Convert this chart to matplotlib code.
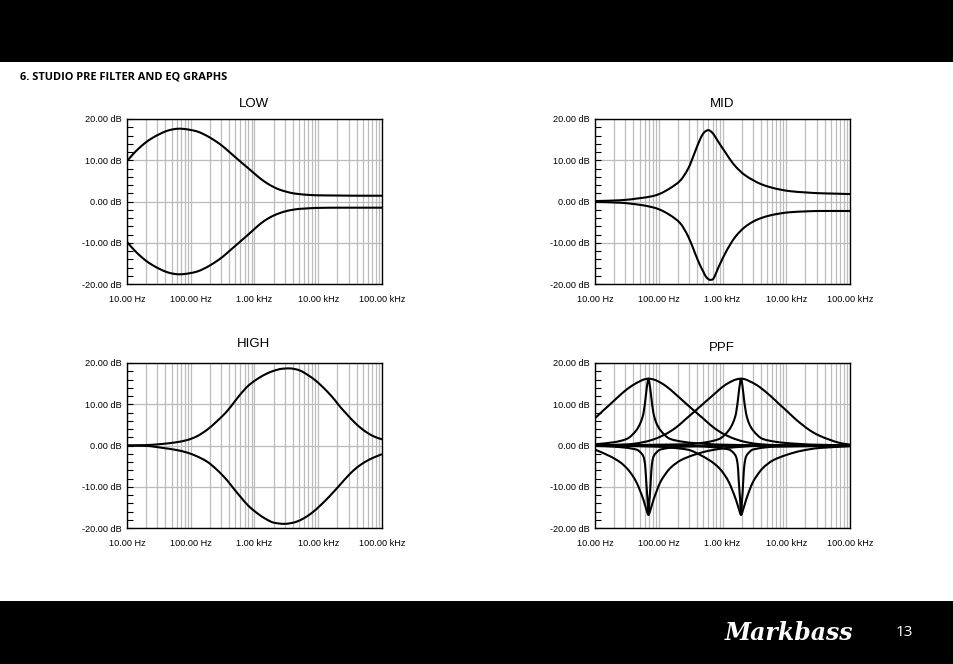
import matplotlib
matplotlib.use("Agg")
import numpy as np
import matplotlib.pyplot as plt
from matplotlib.patches import Rectangle, PathPatch
from matplotlib.path import Path
from matplotlib.ticker import FixedLocator, LogLocator, MultipleLocator, NullFormatter

# ---- data (frequency in Hz, level in dB) ----
x_ticks = [10, 100, 1000, 10000, 100000]
x_labels = ["10.00 Hz", "100.00 Hz", "1.00 kHz", "10.00 kHz", "100.00 kHz"]
y_ticks = [-20, -10, 0, 10, 20]
y_labels = ["-20.00 dB", "-10.00 dB", "0.00 dB", "10.00 dB", "20.00 dB"]

low_f = [10, 12, 14, 17, 20, 25, 33, 42, 53, 65, 77, 95, 125, 160, 200, 250, 320, 400,
         500, 630, 800, 1000, 1250, 1600, 2000, 2500, 3200, 4000, 5000, 6300, 8000,
         10000, 20000, 50000, 100000]
low_boost = [9.8, 11.2, 12.3, 13.5, 14.4, 15.4, 16.4, 17.1, 17.5, 17.65, 17.6, 17.4, 17.0,
             16.3, 15.5, 14.55, 13.35, 12.05, 10.75, 9.4, 8.05, 6.75, 5.5, 4.35, 3.5,
             2.85, 2.35, 2.0, 1.8, 1.65, 1.55, 1.5, 1.45, 1.4, 1.4]
low_cut = [-9.8, -11.2, -12.3, -13.5, -14.4, -15.4, -16.4, -17.1, -17.5, -17.65, -17.6,
           -17.4, -17.0, -16.3, -15.5, -14.55, -13.35, -12.05, -10.75, -9.4, -8.0, -6.65,
           -5.35, -4.2, -3.4, -2.8, -2.3, -2.0, -1.8, -1.7, -1.6, -1.55, -1.5, -1.5, -1.5]

mid_f_boost = [10, 25, 50, 80, 105, 150, 215, 290, 370, 440, 500, 550, 600, 680, 760, 900,
               1100, 1300, 1600, 2200, 3000, 3900, 5500, 8000, 11500, 20000, 34000, 60000,
               100000]
mid_boost = [0.1, 0.3, 0.8, 1.3, 1.9, 3.2, 5.0, 8.0, 12.0, 14.9, 16.5, 17.1, 17.3, 16.8,
             15.8, 14.0, 12.0, 10.3, 8.5, 6.5, 5.2, 4.3, 3.5, 2.9, 2.5, 2.2, 2.0, 1.9, 1.8]
mid_f_cut = [10, 25, 50, 80, 105, 150, 215, 290, 370, 440, 500, 560, 640, 700, 760, 850,
             950, 1100, 1300, 1600, 2200, 3000, 3900, 5500, 8000, 11500, 20000, 34000,
             100000]
mid_cut = [-0.1, -0.3, -0.8, -1.4, -2.0, -3.3, -5.2, -8.5, -12.5, -15.3, -17.0, -18.4,
           -19.0, -18.9, -18.0, -16.2, -14.6, -12.6, -10.6, -8.5, -6.3, -4.9, -4.1, -3.4,
           -2.9, -2.6, -2.4, -2.3, -2.3]

high_f_boost = [10, 20, 37, 60, 87, 120, 180, 250, 370, 480, 600, 800, 1100, 1500, 2000,
                2700, 3500, 4400, 5300, 7000, 9000, 11000, 14000, 18000, 22000, 28000,
                36000, 46000, 60000, 80000, 100000]
high_boost = [0.0, 0.1, 0.4, 0.8, 1.3, 2.1, 3.8, 5.7, 8.3, 10.5, 12.4, 14.5, 16.1, 17.3,
              18.1, 18.6, 18.7, 18.5, 18.1, 17.0, 15.8, 14.6, 13.0, 11.1, 9.4, 7.6, 5.8,
              4.3, 3.0, 2.0, 1.5]
high_f_cut = [10, 20, 37, 60, 87, 120, 180, 250, 370, 480, 600, 800, 1100, 1500, 2000,
              2900, 3800, 4700, 6000, 8000, 11000, 14000, 18000, 22000, 28000, 36000,
              46000, 60000, 80000, 100000]
high_cut = [0.0, -0.1, -0.6, -1.1, -1.7, -2.5, -3.9, -5.7, -8.4, -10.6, -12.4, -14.6,
            -16.4, -17.8, -18.7, -19.0, -18.8, -18.4, -17.6, -16.3, -14.4, -12.8, -11.0,
            -9.5, -7.7, -6.0, -4.7, -3.6, -2.7, -2.1]

# PPF: wide boost, narrow boost, wide cut, needle cut at ~69 Hz and ~1.95 kHz
ppf_wide_lo_f = [10, 13.5, 17.3, 23.5, 31.5, 40, 51, 61.5, 69, 83, 105, 135, 170, 245,
                 355, 510, 645, 870, 1170, 1700, 2450, 3950, 6900, 13800, 100000]
ppf_wide_lo = [6.6, 8.5, 10.0, 11.9, 13.6, 14.7, 15.6, 16.1, 16.2, 16.0, 15.3, 14.2,
               12.9, 10.7, 8.5, 6.4, 5.0, 3.5, 2.4, 1.4, 0.75, 0.3, 0.1, 0.02, 0.0]
ppf_wide_hi_f = [10, 34, 55, 80, 115, 155, 210, 265, 380, 550, 800, 1000, 1290, 1630,
                 1955, 2200, 2640, 3400, 4270, 5770, 7800, 10000, 13500, 17000, 25000,
                 33000, 48000, 70000, 100000]
ppf_wide_hi = [0.05, 0.3, 0.75, 1.4, 2.4, 3.5, 5.0, 6.4, 8.5, 10.7, 12.9, 14.2, 15.3,
               16.0, 16.2, 16.1, 15.6, 14.7, 13.6, 11.9, 10.0, 8.5, 6.6, 5.3, 3.4, 2.4,
               1.4, 0.6, 0.2]
ppf_narrow_lo_f = [10, 20, 31.5, 45, 52, 57.6, 63.4, 66, 69, 72, 75, 82.6, 92, 105, 151,
                   240, 352, 1000, 5000, 100000]
ppf_narrow_lo = [0.3, 0.8, 1.6, 3.8, 5.6, 7.8, 12.7, 14.8, 16.2, 14.8, 12.7, 7.8, 5.4,
                 3.8, 1.6, 0.9, 0.6, 0.2, 0.05, 0.0]
ppf_narrow_hi_f = [10, 283, 560, 890, 1270, 1470, 1630, 1795, 1870, 1955, 2040, 2120,
                   2340, 2600, 2970, 4270, 6800, 10000, 28000, 100000]
ppf_narrow_hi = [0.05, 0.3, 0.8, 1.6, 3.8, 5.6, 7.8, 12.7, 14.8, 16.2, 14.8, 12.7, 7.8,
                 5.4, 3.8, 1.6, 0.9, 0.6, 0.2, 0.05]
ppf_cut_lo_f = [10, 17.2, 25, 31.5, 38, 45, 51, 57.6, 63, 69, 75.5, 82.6, 93, 105, 125,
                151, 220, 352, 600, 1170, 3940, 100000]
ppf_cut_lo = [-1.0, -2.6, -4.1, -5.5, -7.1, -9.0, -11.0, -13.2, -15.2, -16.8, -15.2,
              -13.2, -11.0, -9.0, -7.1, -5.5, -3.6, -2.3, -1.3, -0.6, -0.1, 0.0]
ppf_cut_hi_f = [10, 100, 150, 283, 487, 700, 890, 1075, 1270, 1440, 1630, 1790, 1955,
                2140, 2340, 2630, 2970, 3540, 4270, 6200, 10000, 17000, 33000, 100000]
ppf_cut_hi = [0.0, -0.3, -0.5, -1.0, -2.6, -4.1, -5.5, -7.1, -9.0, -11.0, -13.2, -15.2,
              -16.8, -15.2, -13.2, -11.0, -9.0, -7.1, -5.5, -3.6, -2.3, -1.3, -0.6, -0.2]
ppf_needle_lo_f = [10, 20, 45, 52, 57.6, 61, 63.4, 65.5, 66.7, 68, 69, 70, 71.5, 73, 75,
                   78, 82.6, 92, 105, 240, 1000, 100000]
ppf_needle_lo = [-0.1, -0.3, -1.0, -1.7, -2.7, -4.6, -8.3, -11.5, -13.2, -15.6, -16.8,
                 -15.6, -13.2, -11.5, -8.3, -4.6, -2.7, -1.7, -1.0, -0.3, -0.1, 0.0]
ppf_needle_hi_f = [10, 283, 560, 1270, 1470, 1630, 1730, 1795, 1855, 1890, 1925, 1955,
                   1985, 2025, 2065, 2120, 2210, 2340, 2600, 2970, 6800, 100000]
ppf_needle_hi = [0.0, -0.1, -0.3, -1.0, -1.7, -2.7, -4.6, -8.3, -11.5, -13.2, -15.6,
                 -16.8, -15.6, -13.2, -11.5, -8.3, -4.6, -2.7, -1.7, -1.0, -0.3, -0.1]

W, H = 954, 664
fig = plt.figure(figsize=(W / 100, H / 100), dpi=100)
fig.patch.set_facecolor("white")

# black page bands
fig.patches.append(Rectangle((0, 1 - 62 / H), 1, 62 / H, transform=fig.transFigure,
                             facecolor="black", edgecolor="none", zorder=0))
fig.patches.append(Rectangle((0, 0), 1, 63 / H, transform=fig.transFigure,
                             facecolor="black", edgecolor="none", zorder=0))

fig.text(20 / W, 1 - 77 / H, "6. STUDIO PRE FILTER AND EQ GRAPHS", fontsize=7.9,
         fontweight="bold", family="Open Sans", ha="left", va="center")
fig.text(789 / W, 1 - 633 / H, "Markbass", color="white", fontsize=17,
         family="DejaVu Serif", fontweight="bold", style="italic", ha="center", va="center")
fig.text(904 / W, 1 - 633 / H, "13", color="white", fontsize=11, family="Open Sans",
         ha="center", va="center")


def curve(ax, f, db):
    # smooth bezier through the read points (monotone slopes in log-f space)
    lx = np.log10(f)
    y = np.asarray(db, dtype=float)
    h = np.diff(lx)
    d = np.diff(y) / h
    m = np.zeros(len(y))
    m[0], m[-1] = d[0], d[-1]
    for i in range(1, len(y) - 1):
        if d[i - 1] * d[i] > 0:
            w1 = 2 * h[i] + h[i - 1]
            w2 = h[i] + 2 * h[i - 1]
            m[i] = (w1 + w2) / (w1 / d[i - 1] + w2 / d[i])
    verts = [(f[0], y[0])]
    codes = [Path.MOVETO]
    for i in range(len(y) - 1):
        verts += [(10 ** (lx[i] + h[i] / 3), y[i] + m[i] * h[i] / 3),
                  (10 ** (lx[i + 1] - h[i] / 3), y[i + 1] - m[i + 1] * h[i] / 3),
                  (f[i + 1], y[i + 1])]
        codes += [Path.CURVE4] * 3
    ax.add_patch(PathPatch(Path(verts, codes), fill=False, ec="black", lw=1.5,
                           joinstyle="round"))


def panel(left, top, title, title_y, curves):
    ax = fig.add_axes([left / W, 1 - (top + 165) / H, 255 / W, 165 / H])
    ax.set_xscale("log")
    ax.set_xlim(10, 100000)
    ax.set_ylim(-20, 20)
    ax.xaxis.set_major_locator(FixedLocator(x_ticks))
    ax.set_xticklabels(x_labels)
    ax.xaxis.set_minor_locator(LogLocator(base=10, subs=range(2, 10)))
    ax.xaxis.set_minor_formatter(NullFormatter())
    ax.set_yticks(y_ticks)
    ax.set_yticklabels(y_labels)
    ax.yaxis.set_minor_locator(MultipleLocator(2))
    ax.tick_params(axis="x", which="both", length=0, pad=8, labelsize=6.6)
    ax.tick_params(axis="y", which="both", direction="in", length=4, width=0.8,
                   pad=4, labelsize=6.6)
    for lab in ax.get_xticklabels() + ax.get_yticklabels():
        lab.set_family("Liberation Sans")
    ax.grid(True, axis="x", which="both", color="#bcbcbc", lw=0.9)
    ax.grid(True, axis="y", which="major", color="#bcbcbc", lw=0.9)
    ax.set_axisbelow(True)
    for s in ax.spines.values():
        s.set_color("black")
        s.set_linewidth(1.0)
    for f, db in curves:
        curve(ax, f, db)
    fig.text((left + 127) / W, 1 - title_y / H, title, fontsize=9.5,
             family="Liberation Sans", ha="center", va="center")
    return ax


panel(127, 119, "LOW", 104, [(low_f, low_boost), (low_f, low_cut)])
panel(595, 119, "MID", 104, [(mid_f_boost, mid_boost), (mid_f_cut, mid_cut)])
panel(127, 363, "HIGH", 344, [(high_f_boost, high_boost), (high_f_cut, high_cut)])
panel(595, 363, "PPF", 348, [
    (ppf_wide_lo_f, ppf_wide_lo), (ppf_wide_hi_f, ppf_wide_hi),
    (ppf_narrow_lo_f, ppf_narrow_lo), (ppf_narrow_hi_f, ppf_narrow_hi),
    (ppf_cut_lo_f, ppf_cut_lo), (ppf_cut_hi_f, ppf_cut_hi),
    (ppf_needle_lo_f, ppf_needle_lo), (ppf_needle_hi_f, ppf_needle_hi),
])

fig.savefig("out.png", dpi=100)
